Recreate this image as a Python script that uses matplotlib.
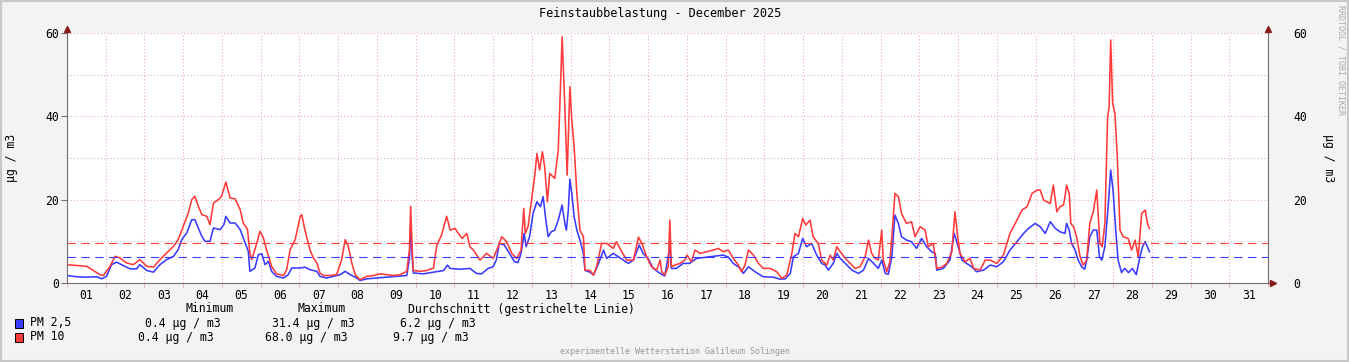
import matplotlib.pyplot as plt
from matplotlib.patches import Rectangle

# Messwerte Dezember 2025 (Tag im Monat, Wert in µg/m3)
t_pm10 = [1.00, 1.25, 1.51, 1.85, 1.94, 2.11, 2.24, 2.37, 2.54, 2.71, 2.88, 3.06, 3.23, 3.40, 3.57,
          3.75, 3.87, 4.00, 4.13, 4.22, 4.30, 4.39, 4.48, 4.61, 4.69, 4.78, 4.91, 4.99, 5.10, 5.21,
          5.34, 5.47, 5.55, 5.66, 5.72, 5.77, 5.90, 5.98, 6.07, 6.15, 6.28, 6.41, 6.59, 6.67, 6.76,
          6.89, 7.02, 7.06, 7.14, 7.27, 7.36, 7.45, 7.53, 7.62, 7.79, 7.96, 8.09, 8.18, 8.26, 8.35,
          8.44, 8.56, 8.74, 8.91, 9.08, 9.25, 9.43, 9.60, 9.77, 9.84, 9.87, 9.91, 9.94, 10.11, 10.29,
          10.46, 10.54, 10.67, 10.80, 10.89, 11.02, 11.10, 11.20, 11.32, 11.40, 11.49, 11.66, 11.83, 12.00,
          12.13, 12.22, 12.35, 12.48, 12.61, 12.72, 12.79, 12.83, 12.90, 12.99, 13.07, 13.13, 13.20, 13.27,
          13.33, 13.40, 13.46, 13.59, 13.68, 13.72, 13.78, 13.85, 13.91, 13.98, 14.03, 14.09, 14.16, 14.24,
          14.33, 14.37, 14.50, 14.59, 14.67, 14.80, 14.93, 15.10, 15.18, 15.32, 15.45, 15.62, 15.75, 15.84,
          15.96, 16.09, 16.22, 16.31, 16.35, 16.43, 16.52, 16.56, 16.60, 16.69, 16.82, 16.95, 17.00, 17.12,
          17.21, 17.34, 17.51, 17.68, 17.81, 17.94, 18.07, 18.20, 18.33, 18.41, 18.50, 18.59, 18.72, 18.85,
          18.97, 19.15, 19.32, 19.45, 19.58, 19.71, 19.79, 19.88, 19.99, 20.07, 20.18, 20.26, 20.39, 20.48,
          20.61, 20.70, 20.78, 20.87, 20.96, 21.09, 21.22, 21.34, 21.47, 21.60, 21.69, 21.77, 21.86, 21.94,
          22.03, 22.07, 22.16, 22.24, 22.31, 22.37, 22.46, 22.54, 22.67, 22.80, 22.89, 23.02, 23.15, 23.23,
          23.36, 23.45, 23.58, 23.71, 23.84, 23.92, 23.98, 24.05, 24.18, 24.31, 24.40, 24.57, 24.70, 24.83,
          25.00, 25.17, 25.34, 25.52, 25.65, 25.78, 25.91, 26.04, 26.12, 26.21, 26.29, 26.38, 26.46, 26.55,
          26.63, 26.72, 26.76, 26.80, 26.87, 26.91, 26.98, 27.06, 27.15, 27.23, 27.32, 27.40, 27.49, 27.58,
          27.66, 27.72, 27.79, 27.86, 27.90, 27.94, 27.99, 28.05, 28.11, 28.18, 28.26, 28.39, 28.48, 28.57,
          28.65, 28.74, 28.83, 28.89, 28.94]
pm10 = [4.4, 4.2, 4.0, 2.0, 1.8, 4.0, 6.4, 6.0, 4.8, 4.4, 5.6, 4.0, 3.8, 5.6, 7.2,
        8.8, 10.4, 13.6, 16.8, 20.0, 20.8, 18.4, 16.4, 16.0, 14.0, 19.2, 20.0, 20.8, 24.2, 20.4,
        20.2, 17.6, 14.4, 12.8, 7.2, 5.6, 9.6, 12.4, 10.8, 8.0, 4.0, 2.2, 1.8, 3.2, 8.0,
        10.4, 16.0, 16.4, 12.8, 8.0, 6.0, 4.8, 2.4, 1.8, 1.8, 2.0, 5.6, 10.4, 8.8, 4.8,
        2.0, 0.8, 1.6, 1.8, 2.2, 2.0, 1.8, 2.0, 2.8, 8.0, 18.4, 8.0, 3.0, 2.8, 3.0,
        3.6, 8.8, 11.6, 16.0, 12.7, 13.1, 11.9, 10.7, 11.9, 8.7, 7.9, 5.5, 7.1, 5.9,
        8.7, 11.1, 9.9, 7.1, 5.9, 7.9, 17.9, 11.9, 13.5, 19.9, 25.5, 31.1, 27.1, 31.5,
        27.9, 19.5, 26.3, 25.1, 31.9, 42.3, 59.1, 42.3, 25.9, 47.1, 39.1, 32.7, 21.5, 12.7,
        11.1, 3.1, 3.0, 1.9, 3.9, 9.5, 9.5, 8.3, 9.9, 7.5, 5.5, 5.5, 11.0, 9.5,
        6.3, 3.9, 3.1, 5.5, 2.7, 1.9, 3.9, 15.1, 3.9, 4.3, 4.7, 5.5, 6.7, 5.1,
        7.9, 7.1, 7.5, 7.9, 8.3, 7.5, 7.9, 5.9, 4.3, 2.7, 4.3, 7.9, 6.7, 4.7,
        3.5, 3.5, 2.7, 1.1, 1.9, 7.1, 11.9, 11.1, 15.5, 13.9, 15.1, 11.1, 9.5, 5.5,
        4.3, 6.7, 5.5, 8.7, 7.5, 5.9, 4.7, 3.5, 3.9, 6.3, 10.3, 7.1, 5.9, 5.5,
        12.7, 5.5, 2.7, 5.1, 13.5, 21.5, 20.7, 16.7, 14.3, 14.7, 11.1, 13.5, 12.7, 8.7,
        9.5, 3.5, 3.8, 4.7, 7.5, 17.1, 11.9, 7.1, 5.1, 5.9, 3.5, 3.1, 5.5, 5.5,
        4.7, 6.7, 11.9, 15.1, 17.5, 18.3, 21.5, 22.3, 22.3, 19.9, 19.5, 19.1, 23.5, 17.1,
        18.3, 18.7, 20.7, 23.5, 21.5, 14.3, 13.5, 11.1, 6.3, 4.3, 5.5, 14.3, 17.1, 22.3,
        9.5, 8.7, 14.3, 39.9, 42.3, 58.3, 43.1, 40.7, 30.3, 12.7, 11.1, 10.7, 7.9, 10.3,
        6.3, 16.7, 17.5, 14.3, 13.1]

t_pm25 = [1.00, 1.25, 1.51, 1.77, 1.90, 2.02, 2.15, 2.28, 2.45, 2.63, 2.80, 2.88, 3.06, 3.23, 3.40,
          3.57, 3.75, 3.87, 3.96, 4.09, 4.22, 4.30, 4.39, 4.48, 4.56, 4.69, 4.78, 4.95, 5.05, 5.10,
          5.21, 5.34, 5.47, 5.60, 5.68, 5.72, 5.85, 5.94, 6.03, 6.11, 6.20, 6.28, 6.41, 6.59, 6.71,
          6.80, 7.02, 7.14, 7.27, 7.45, 7.53, 7.70, 7.88, 8.05, 8.18, 8.31, 8.48, 8.56, 8.74, 9.00,
          9.25, 9.51, 9.77, 9.84, 9.87, 9.91, 9.94, 10.20, 10.46, 10.72, 10.82, 10.89, 11.15, 11.40,
          11.57, 11.70, 11.87, 12.00, 12.08, 12.16, 12.29, 12.42, 12.55, 12.64, 12.72, 12.80, 12.85, 12.94,
          13.03, 13.13, 13.22, 13.29, 13.36, 13.42, 13.50, 13.59, 13.68, 13.78, 13.85, 13.89, 13.94, 13.98,
          14.03, 14.09, 14.16, 14.24, 14.33, 14.37, 14.50, 14.59, 14.72, 14.85, 14.93, 15.10, 15.23, 15.36,
          15.49, 15.62, 15.77, 15.87, 16.00, 16.13, 16.31, 16.43, 16.56, 16.60, 16.73, 16.90, 17.07, 17.25,
          17.51, 17.77, 17.94, 18.07, 18.20, 18.38, 18.46, 18.59, 18.76, 18.97, 19.23, 19.41, 19.54, 19.67,
          19.75, 19.88, 19.99, 20.09, 20.22, 20.35, 20.48, 20.57, 20.65, 20.78, 20.87, 20.96, 21.09, 21.26,
          21.43, 21.56, 21.69, 21.82, 21.94, 22.03, 22.12, 22.20, 22.29, 22.37, 22.46, 22.54, 22.67, 22.80,
          22.93, 23.06, 23.19, 23.32, 23.41, 23.45, 23.62, 23.79, 23.90, 23.98, 24.10, 24.22, 24.35, 24.48,
          24.66, 24.83, 25.00, 25.17, 25.34, 25.52, 25.69, 25.82, 25.99, 26.12, 26.25, 26.38, 26.51, 26.63,
          26.76, 26.80, 26.87, 26.93, 27.02, 27.10, 27.19, 27.27, 27.32, 27.40, 27.49, 27.58, 27.65, 27.71,
          27.79, 27.88, 27.94, 28.00, 28.07, 28.13, 28.22, 28.30, 28.40, 28.50, 28.60, 28.70, 28.76, 28.83,
          28.94]
pm25 = [1.8, 1.5, 1.4, 1.5, 1.0, 1.6, 4.4, 5.0, 4.2, 3.4, 3.4, 4.4, 3.0, 2.6, 4.4,
        5.6, 6.4, 8.0, 10.4, 12.0, 15.2, 15.2, 13.2, 11.2, 10.0, 10.0, 13.2, 12.8, 14.0, 16.0,
        14.4, 14.4, 12.8, 9.6, 7.6, 2.8, 3.6, 6.8, 7.0, 4.4, 5.2, 2.8, 1.6, 1.2, 2.0,
        3.6, 3.6, 3.8, 3.2, 2.8, 1.6, 1.2, 1.6, 2.0, 2.8, 2.0, 1.2, 0.6, 1.0, 1.2,
        1.4, 1.6, 1.8, 6.0, 13.6, 6.0, 2.4, 2.2, 2.6, 3.0, 4.3, 3.5, 3.3, 3.5,
        2.3, 2.2, 3.5, 3.9, 5.5, 9.5, 9.1, 7.1, 5.1, 4.9, 7.1, 11.9, 8.7, 11.1,
        16.7, 19.5, 18.3, 20.7, 15.1, 11.1, 12.3, 12.7, 15.1, 18.7, 14.3, 12.7, 17.5, 24.9,
        21.5, 15.9, 12.7, 10.3, 7.1, 3.0, 2.6, 1.9, 4.7, 7.9, 5.9, 7.1, 6.3, 5.5,
        4.7, 5.5, 9.1, 7.1, 5.9, 3.5, 2.3, 1.7, 8.7, 3.5, 3.5, 4.7, 4.7, 5.9,
        6.2, 6.5, 6.7, 6.2, 4.7, 3.5, 2.3, 3.9, 2.7, 1.5, 1.4, 0.9, 1.0, 2.3,
        6.3, 7.1, 10.7, 8.7, 9.5, 6.7, 4.7, 4.3, 3.1, 4.7, 7.1, 5.9, 4.7, 3.1,
        2.3, 3.1, 5.9, 4.7, 3.5, 5.5, 2.3, 2.1, 6.3, 16.3, 14.3, 11.1, 10.3, 9.9,
        8.3, 10.7, 8.7, 7.5, 7.1, 3.1, 3.5, 5.5, 11.9, 9.5, 5.5, 4.7, 3.9, 2.7,
        3.1, 4.3, 3.9, 5.1, 7.9, 9.9, 11.9, 13.1, 14.3, 13.5, 11.9, 14.7, 13.1, 12.3,
        11.9, 14.3, 12.7, 9.5, 7.9, 5.5, 3.9, 3.3, 5.5, 11.1, 12.7, 12.7, 6.3, 5.5,
        8.7, 19.1, 27.1, 22.3, 12.7, 5.5, 2.5, 3.5, 2.5, 3.5, 2.0, 6.5, 8.7, 9.9,
        7.5]

avg_pm10 = 9.7
avg_pm25 = 6.2
tage = [f'{d:02d}' for d in range(1, 32)]

plt.rcParams['font.family'] = 'DejaVu Sans Mono'
W, H = 1349, 362
rot = '#ff3a3a'
blau = '#3a3aff'
pink = '#e8b0b0'

fig = plt.figure(figsize=(W / 100, H / 100), dpi=100, facecolor='#f3f3f3')
fig.patches.append(Rectangle((0, 0), 1, 1, transform=fig.transFigure, fill=False,
                             edgecolor='#c8c8c8', lw=3))
ax = fig.add_axes([67 / W, 1 - 283 / H, (1268 - 67) / W, 250 / H])
ax.set_facecolor('white')

ax.plot(t_pm25, pm25, color=blau, lw=1.15)
ax.plot(t_pm10, pm10, color=rot, lw=1.15)
ax.axhline(avg_pm10, color=rot, lw=0.8, ls=(0, (7.5, 5)))
ax.axhline(avg_pm25, color=blau, lw=0.8, ls=(0, (7.5, 5)))

ax.set_xlim(1, 32)
ax.set_ylim(0, 60)
ax.set_xticks([d + 0.5 for d in range(1, 32)])
ax.set_xticklabels(tage)
ax.set_xticks(range(1, 33), minor=True)
ax.set_yticks([0, 20, 40, 60])
ax.set_yticks([10, 30, 50], minor=True)
ax.tick_params(axis='x', which='major', length=0, pad=4, labelsize=8.3)
ax.tick_params(axis='x', which='minor', length=3, color=pink)
ax.tick_params(axis='y', which='major', length=4, pad=1.5, labelsize=8.3, color='#707070')
ax.tick_params(axis='y', which='minor', length=0)
ax.grid(which='minor', axis='x', color=pink, ls=(0, (1, 2)), lw=0.8)
ax.grid(which='major', axis='y', color=pink, ls=(0, (1, 2)), lw=0.8)
ax.grid(which='minor', axis='y', color='#c0c0c0', ls=(0, (1, 2)), lw=0.8)
ax.set_axisbelow(True)

ax.spines['top'].set_visible(False)
for s in ['left', 'right', 'bottom']:
    ax.spines[s].set_color('#707070')
    ax.spines[s].set_linewidth(0.8)

# Pfeile an den Achsen
ax.plot([0, 0], [1, 1.015], color='#707070', lw=0.8, transform=ax.transAxes, clip_on=False)
ax.plot([1, 1], [1, 1.015], color='#707070', lw=0.8, transform=ax.transAxes, clip_on=False)
ax.plot([1, 1.004], [0, 0], color='#707070', lw=0.8, transform=ax.transAxes, clip_on=False)
ax.plot([0], [1.015], marker='^', color='#8b1a1a', ms=4, transform=ax.transAxes, clip_on=False)
ax.plot([1], [1.015], marker='^', color='#8b1a1a', ms=4, transform=ax.transAxes, clip_on=False)
ax.plot([1.004], [0], marker='>', color='#8b1a1a', ms=4, transform=ax.transAxes, clip_on=False)

ax2 = ax.twinx()
ax2.set_ylim(0, 60)
ax2.set_yticks([0, 20, 40, 60])
ax2.tick_params(axis='y', length=0, pad=18, labelsize=8.3)
for s in ax2.spines.values():
    s.set_visible(False)

def px(x, y):
    return x / W, 1 - y / H

fig.text(*px(660, 14), 'Feinstaubbelastung - December 2025', ha='center', va='center', fontsize=8.6)
fig.text(*px(12, 158), 'µg / m3', rotation=90, ha='center', va='center', fontsize=8.3)
fig.text(*px(1328, 158), 'µg / m3', rotation=270, ha='center', va='center', fontsize=8.3)
fig.text(*px(1341, 5), 'RRDTOOL / TOBI OETIKER', rotation=270, ha='center', va='top',
         fontsize=6, color='#aaaaaa')

# Legende
fig.text(*px(185, 309), 'Minimum', va='center', fontsize=8.3)
fig.text(*px(297, 309), 'Maximum', va='center', fontsize=8.3)
fig.text(*px(408, 309), 'Durchschnitt (gestrichelte Linie)', va='center', fontsize=8.3)

zeilen = [(323, blau, 'PM 2,5', 145, '0.4 µg / m3', 272, '31.4 µg / m3', 400, '6.2 µg / m3'),
          (337, rot, 'PM 10', 137.5, '0.4 µg / m3', 265, '68.0 µg / m3', 393, '9.7 µg / m3')]
for y, farbe, name, x1, t1, x2, t2, x3, t3 in zeilen:
    fig.patches.append(Rectangle(px(15, y + 4.5), 8 / W, 9 / H, transform=fig.transFigure,
                                 facecolor=farbe, edgecolor='black', lw=0.7))
    fig.text(*px(30, y), name, va='center', fontsize=8.3)
    fig.text(*px(x1, y), t1, va='center', fontsize=8.3)
    fig.text(*px(x2, y), t2, va='center', fontsize=8.3)
    fig.text(*px(x3, y), t3, va='center', fontsize=8.3)

fig.text(*px(674.5, 351), 'experimentelle Wetterstation Galileum Solingen', ha='center', va='center',
         fontsize=6, color='#999999')

fig.savefig('out.png', dpi=100, facecolor=fig.get_facecolor())
